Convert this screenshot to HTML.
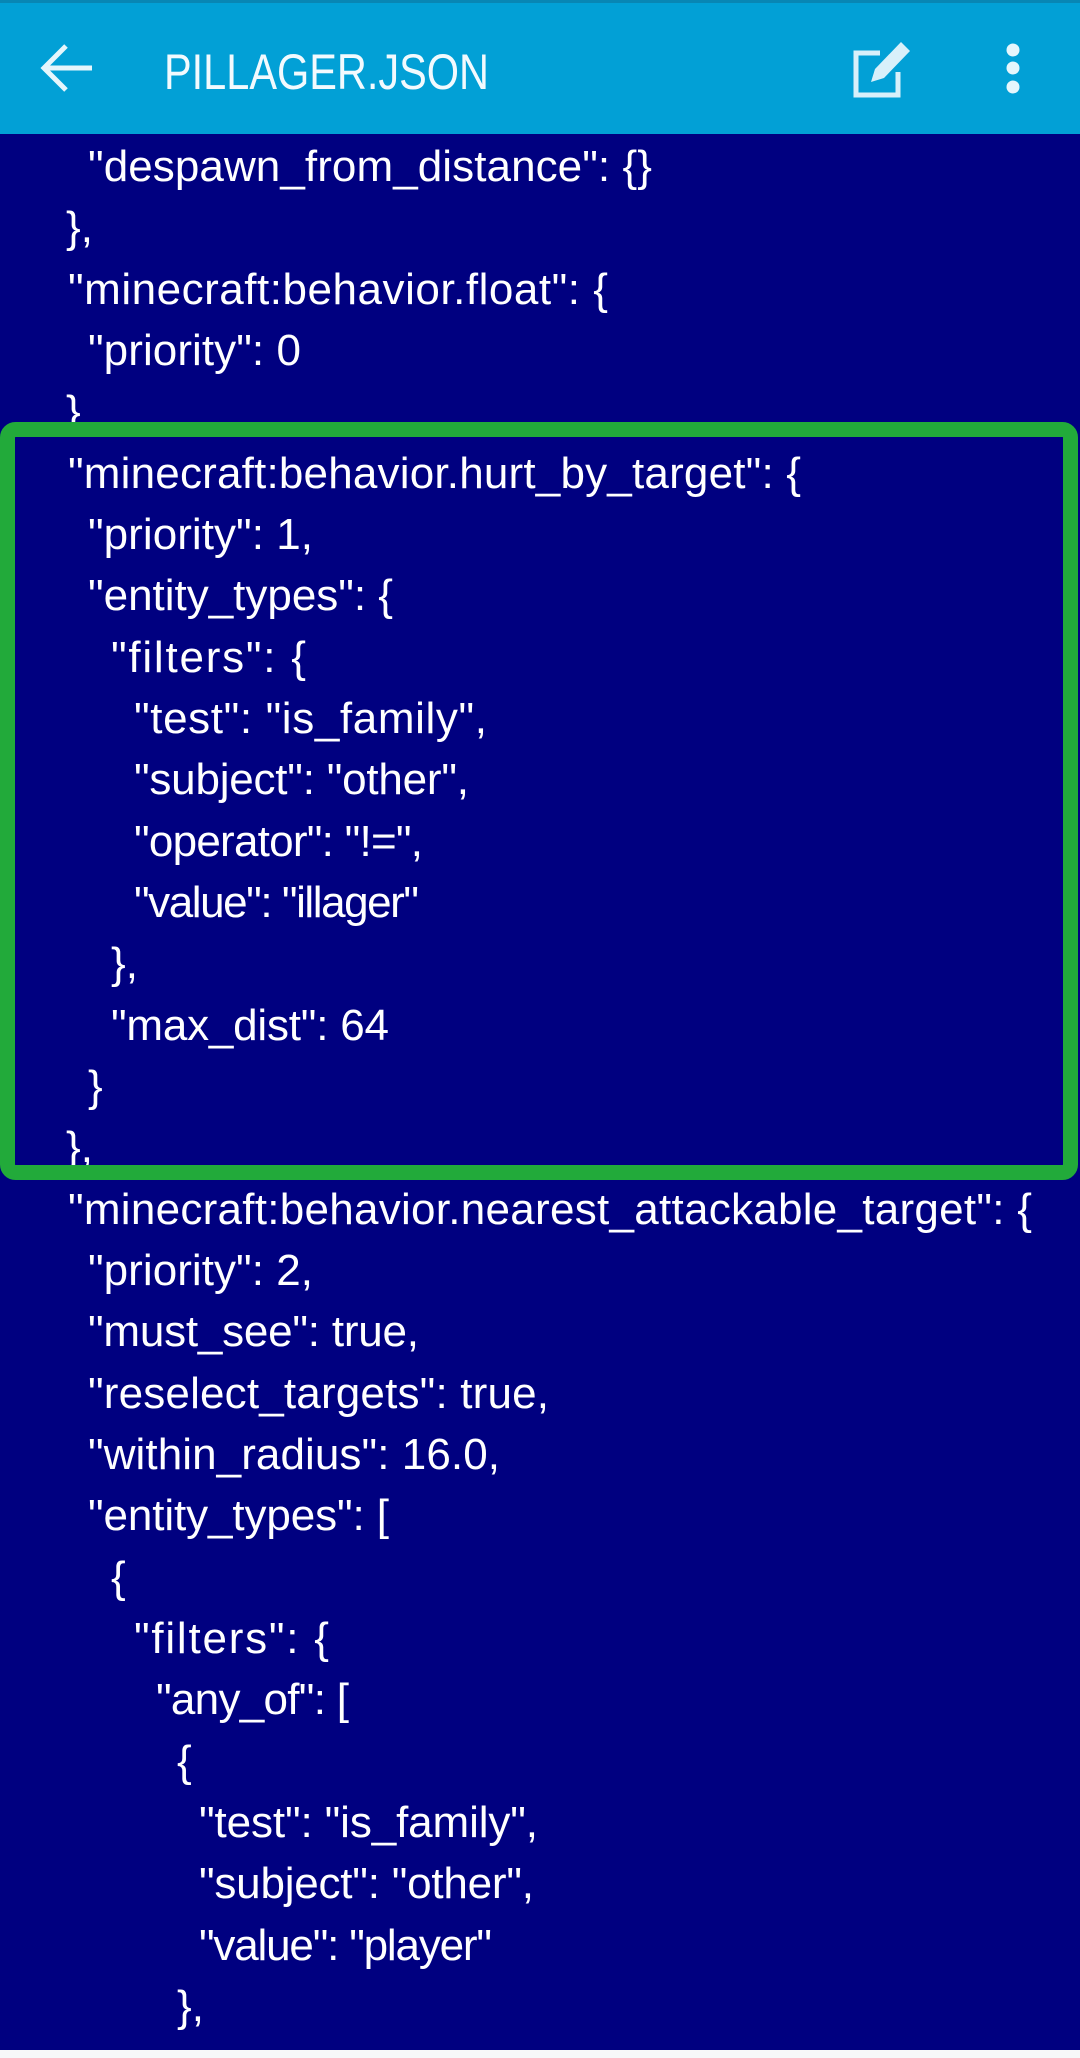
<!DOCTYPE html>
<html><head><meta charset="utf-8"><style>
html,body{margin:0;padding:0;width:1080px;height:2058px;overflow:hidden;background:#000080;}
svg{display:block}
</style></head><body>
<svg width="1080" height="2058" viewBox="0 0 1080 2058" xmlns="http://www.w3.org/2000/svg">
<rect x="0" y="0" width="1080" height="2058" fill="#000080"/>
<rect x="0" y="0" width="1080" height="134" fill="#02A0D6"/>
<rect x="0" y="0" width="1080" height="3" fill="#0886B4"/>
<g stroke="#E6F6FC" stroke-width="5" fill="none" stroke-linecap="butt">
<line x1="44" y1="68" x2="92" y2="68"/>
<polyline points="66,46 44,68 66,90"/>
</g>
<text x="164" y="89" font-family="Liberation Sans, sans-serif" font-size="50" fill="#F2FAFE" textLength="325" lengthAdjust="spacingAndGlyphs">PILLAGER.JSON</text>
<g fill="none" stroke="#D8F0FA" stroke-width="5">
<polyline points="880,53 856,53 856,95 898,95 898,72"/>
</g>
<polygon points="901,42 910,51 884,78 871,82 875,69" fill="#D8F0FA"/>
<circle cx="1013" cy="50" r="6.5" fill="#E6F6FC"/>
<circle cx="1013" cy="68" r="6.5" fill="#E6F6FC"/>
<circle cx="1013" cy="87" r="6.5" fill="#E6F6FC"/>
<g font-family="Liberation Sans, sans-serif" font-size="44" fill="#FFFFFF" lengthAdjust="spacingAndGlyphs">
<text x="88" y="181" textLength="564">"despawn_from_distance": {}</text>
<text x="66" y="242">},</text>
<text x="68" y="304" textLength="540">"minecraft:behavior.float": {</text>
<text x="88" y="365" textLength="213">"priority": 0</text>
<text x="66" y="426">}</text>
<text x="68" y="488" textLength="733">"minecraft:behavior.hurt_by_target": {</text>
<text x="88" y="549" textLength="225">"priority": 1,</text>
<text x="88" y="610" textLength="305">"entity_types": {</text>
<text x="111" y="672" textLength="195">"filters": {</text>
<text x="134" y="733" textLength="353">"test": "is_family",</text>
<text x="134" y="794" textLength="335">"subject": "other",</text>
<text x="134" y="856" textLength="289">"operator": "!=",</text>
<text x="134" y="917" textLength="285">"value": "illager"</text>
<text x="111" y="978">},</text>
<text x="111" y="1040" textLength="278">"max_dist": 64</text>
<text x="88" y="1101">}</text>
<text x="66" y="1162">},</text>
<text x="68" y="1224" textLength="964">"minecraft:behavior.nearest_attackable_target": {</text>
<text x="88" y="1285" textLength="225">"priority": 2,</text>
<text x="88" y="1346" textLength="331">"must_see": true,</text>
<text x="88" y="1408" textLength="461">"reselect_targets": true,</text>
<text x="88" y="1469" textLength="412">"within_radius": 16.0,</text>
<text x="88" y="1530" textLength="301">"entity_types": [</text>
<text x="111" y="1592">{</text>
<text x="134" y="1653" textLength="195">"filters": {</text>
<text x="156" y="1714" textLength="193">"any_of": [</text>
<text x="177" y="1776">{</text>
<text x="199" y="1837" textLength="339">"test": "is_family",</text>
<text x="199" y="1898" textLength="335">"subject": "other",</text>
<text x="199" y="1960" textLength="293">"value": "player"</text>
<text x="177" y="2021">},</text>
<text x="177" y="2082">{</text>
</g>
<rect x="7.5" y="429.5" width="1063" height="743" rx="8" fill="none" stroke="#22AA3A" stroke-width="15"/>
<rect x="0" y="2050" width="1080" height="8" fill="#F7F7F9"/>
</svg>
</body></html>
